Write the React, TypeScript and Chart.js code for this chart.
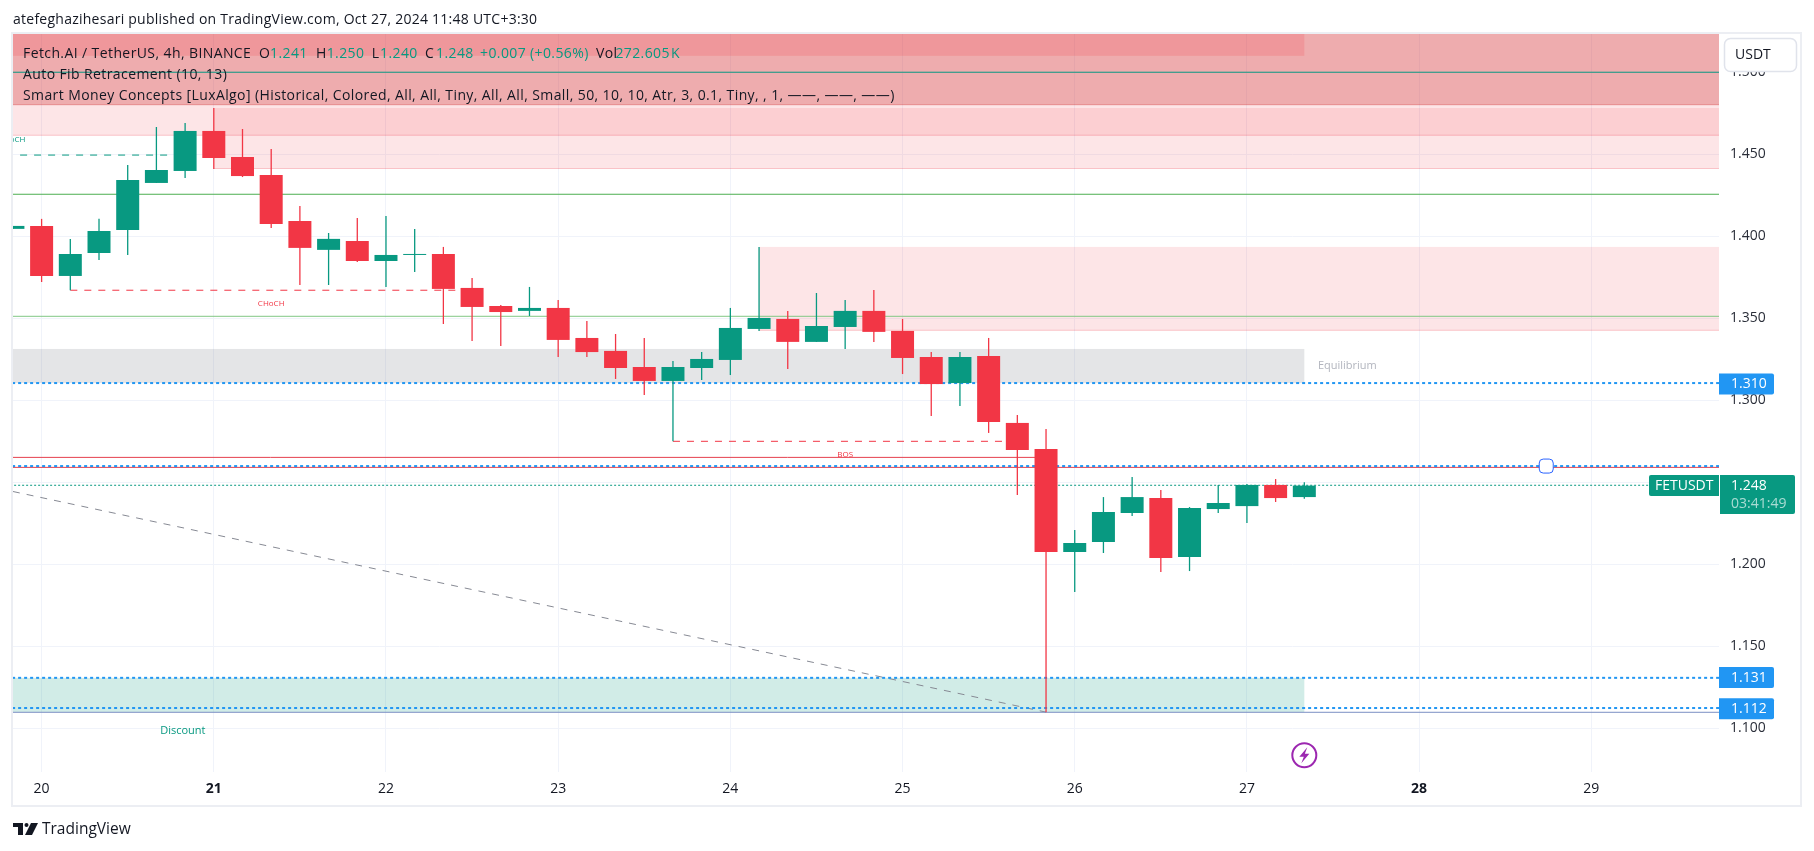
import React, { useEffect, useRef } from "react";
import { Chart, registerables } from "chart.js";

Chart.register(...registerables);

const FONT = '"Open Sans", sans-serif';
const UP = "#089981";
const DOWN = "#f23645";
const BLUE = "#2196f3";
const GRID = "#f0f3fa";

// candle index 0 = day 20 00:00, 6 candles per day
const dayLabels = ["20", "21", "22", "23", "24", "25", "26", "27", "28", "29"];
const boldDays = ["21", "28"];
const candleIndex = [-1, 0, 1, 2, 3, 4, 5, 6, 7, 8, 9, 10, 11, 12, 13, 14, 15, 16, 17, 18, 19, 20, 21, 22, 23, 24, 25, 26, 27, 28, 29, 30, 31, 32, 33, 34, 35, 36, 37, 38, 39, 40, 41, 42, 43, 44];
const opens = [1.4045, 1.4063, 1.3758, 1.3898, 1.4038, 1.4325, 1.4398, 1.4642, 1.4483, 1.4373, 1.4093, 1.3917, 1.3971, 1.3849, 1.3886, 1.3892, 1.3685, 1.3575, 1.3545, 1.3563, 1.338, 1.3301, 1.3203, 1.3118, 1.3197, 1.3246, 1.3435, 1.3496, 1.3356, 1.3447, 1.3545, 1.3423, 1.3264, 1.3105, 1.327, 1.2862, 1.2703, 1.2075, 1.2136, 1.2313, 1.2404, 1.2045, 1.2337, 1.2355, 1.2484, 1.241];
const highs = [1.4063, 1.4106, 1.3984, 1.4106, 1.4435, 1.4666, 1.4691, 1.4782, 1.4654, 1.4532, 1.4185, 1.402, 1.4112, 1.4124, 1.4045, 1.3935, 1.3746, 1.3581, 1.3691, 1.3612, 1.3484, 1.3404, 1.338, 1.324, 1.3294, 1.3563, 1.3935, 1.3545, 1.3654, 1.3612, 1.3673, 1.3496, 1.3294, 1.3294, 1.338, 1.291, 1.2825, 1.2209, 1.241, 1.2532, 1.2453, 1.2349, 1.2484, 1.249, 1.252, 1.25];
const lows = [1.4045, 1.3721, 1.3671, 1.3856, 1.3886, 1.4325, 1.4355, 1.441, 1.4361, 1.4051, 1.3703, 1.3703, 1.3843, 1.3691, 1.3782, 1.3465, 1.3362, 1.3331, 1.3514, 1.3264, 1.3264, 1.313, 1.3032, 1.275, 1.3124, 1.3154, 1.3423, 1.3191, 1.3356, 1.3313, 1.3356, 1.316, 1.2904, 1.2965, 1.2801, 1.2423, 1.1099, 1.1831, 1.2069, 1.2295, 1.1953, 1.1959, 1.2313, 1.2252, 1.238, 1.24];
const closes = [1.4063, 1.3758, 1.3892, 1.4032, 1.4343, 1.4404, 1.4642, 1.4477, 1.4367, 1.4075, 1.3929, 1.3984, 1.3849, 1.3886, 1.3892, 1.3679, 1.3569, 1.3538, 1.3563, 1.3368, 1.3294, 1.3197, 1.3118, 1.3203, 1.3252, 1.3441, 1.3502, 1.3356, 1.3453, 1.3545, 1.3417, 1.3258, 1.3099, 1.3264, 1.2868, 1.2697, 1.2075, 1.213, 1.2319, 1.241, 1.2038, 1.2343, 1.2374, 1.2484, 1.2404, 1.248];

const axisIndexMin = -0.997;
const axisIndexMax = 58.45;
const priceMin = 1.0734;
const priceMax = 1.5233;

const FAR = 70;
// from index, to index, top price, bottom price, fill, border
const zoneList: [number, number, number, number, string, string | null][] = [
  [-5, FAR, 1.56, 1.4799, "rgba(213,48,53,0.40)", "rgba(213,48,53,0.25)"],
  [-5, 44, 1.56, 1.51, "rgba(242,54,69,0.18)", null],
  [-5, FAR, 1.4798, 1.4613, "rgba(242,54,69,0.13)", "rgba(242,54,69,0.2)"],
  [6, FAR, 1.4782, 1.441, "rgba(242,54,69,0.13)", "rgba(242,54,69,0.2)"],
  [25, FAR, 1.3935, 1.3424, "rgba(242,54,69,0.13)", "rgba(242,54,69,0.2)"],
  [-5, 44, 1.3313, 1.3105, "rgba(120,123,134,0.2)", null],
  [-5, 44, 1.1308, 1.1099, "rgba(8,153,129,0.19)", null],
];

// from index, from price, to index, to price, colour, width, dash
const lineList: [number, number, number, number, string, number, number[]][] = [
  [-5, 1.5, FAR, 1.5, UP, 1, []],
  [-5, 1.4256, FAR, 1.4256, "#4caf50", 1, []],
  [-5, 1.3512, FAR, 1.3512, "#81c784", 1, []],
  [-5, 1.3105, FAR, 1.3105, BLUE, 2, [3, 3]],
  [-5, 1.2652, 35, 1.2652, "#e5404e", 1, []],
  [-5, 1.2599, FAR, 1.2599, BLUE, 2, [3, 3]],
  [-5, 1.2591, FAR, 1.2591, "#e5404e", 1, []],
  [-5, 1.2482, FAR, 1.2482, UP, 1, [2, 2]],
  [-5, 1.1308, FAR, 1.1308, BLUE, 2, [3, 3]],
  [-5, 1.1124, FAR, 1.1124, BLUE, 2, [3, 3]],
  [-5, 1.1098, FAR, 1.1098, "#7b8fc4", 1, []],
  [-0.75, 1.4495, 5, 1.4495, UP, 1, [7, 7]],
  [1, 1.3671, 15, 1.3671, DOWN, 1, [7, 7]],
  [22, 1.275, 34, 1.275, DOWN, 1, [7, 7]],
  [-1, 1.2444, 35, 1.1099, "#868993", 1, [7, 7]],
];

// text, index, price, size, colour
const noteList: [string, number, number, number, string][] = [
  ["CHoCH", -1.03, 1.4587, 8, UP],
  ["CHoCH", 8, 1.3587, 8, DOWN],
  ["BOS", 28, 1.2668, 8, DOWN],
  ["Equilibrium", 45.5, 1.321, 11, "#b2b5be"],
  ["Discount", 4.92, 1.0984, 11, UP],
];

const priceTags = [1.31, 1.131, 1.112];
const lastPrice = 1.248;
const handleAt: [number, number] = [52.43, 1.2599];
const iconAt = 44;

const headerText = "atefeghazihesari published on TradingView.com, Oct 27, 2024 11:48 UTC+3:30";
const legendLine2 = "Auto Fib Retracement (10, 13)";
const legendLine3 = "Smart Money Concepts [LuxAlgo] (Historical, Colored, All, All, Tiny, All, All, Small, 50, 10, 10, Atr, 3, 0.1, Tiny, , 1, ——, ——, ——)";
const legendParts: [string, number, string][] = [
  ["Fetch.AI / TetherUS, 4h, BINANCE", 23, "#131722"],
  ["O", 259, "#131722"], ["1.241", 270, UP],
  ["H", 316, "#131722"], ["1.250", 326.7, UP],
  ["L", 371.7, "#131722"], ["1.240", 380, UP],
  ["C", 425, "#131722"], ["1.248", 436, UP],
  ["+0.007", 480, UP], ["(+0.56%)", 530, UP],
  ["Vol", 596, "#131722"], ["272.605", 615.4, UP], ["K", 671, UP],
];

const zonesAndOverlays = {
  id: "zonesAndOverlays",
  beforeDatasetsDraw(chart: any) {
    const { ctx, chartArea: a, scales } = chart;
    ctx.save();
    ctx.beginPath();
    ctx.rect(a.left, a.top, a.right - a.left, a.bottom - a.top);
    ctx.clip();
    for (const [i0, i1, p0, p1, fill, border] of zoneList) {
      const x0 = scales.x.getPixelForValue(i0);
      const x1 = scales.x.getPixelForValue(i1);
      const y0 = scales.y.getPixelForValue(p0);
      const y1 = scales.y.getPixelForValue(p1);
      ctx.fillStyle = fill;
      ctx.fillRect(x0, y0, x1 - x0, y1 - y0);
      if (border) {
        ctx.fillStyle = border;
        ctx.fillRect(x0, y1 - 1, x1 - x0, 1);
      }
    }
    ctx.restore();
  },
  afterDatasetsDraw(chart: any) {
    const { ctx, chartArea: a, scales } = chart;
    ctx.save();
    ctx.beginPath();
    ctx.rect(a.left, a.top, a.right - a.left, a.bottom - a.top);
    ctx.clip();
    ctx.textAlign = "center";
    ctx.textBaseline = "middle";
    for (const [t, i, p, size, color] of noteList) {
      ctx.font = `${size}px ${FONT}`;
      ctx.fillStyle = color;
      ctx.fillText(t, scales.x.getPixelForValue(i), scales.y.getPixelForValue(p));
    }
    // alert handle on the line
    const hx = scales.x.getPixelForValue(handleAt[0]);
    const hy = scales.y.getPixelForValue(handleAt[1]);
    ctx.beginPath();
    ctx.roundRect(hx - 7, hy - 7, 14, 14, 4);
    ctx.fillStyle = "#fff";
    ctx.fill();
    ctx.strokeStyle = "#2962ff";
    ctx.lineWidth = 1;
    ctx.stroke();
    // purple lightning badge
    const ix = scales.x.getPixelForValue(iconAt);
    const iy = 755.3;
    ctx.beginPath();
    ctx.arc(ix, iy, 12, 0, Math.PI * 2);
    ctx.strokeStyle = "#9c27b0";
    ctx.lineWidth = 2;
    ctx.stroke();
    ctx.beginPath();
    ctx.moveTo(ix + 3, iy - 8);
    ctx.lineTo(ix - 5, iy + 1.5);
    ctx.lineTo(ix - 0.5, iy + 1.5);
    ctx.lineTo(ix - 3, iy + 8);
    ctx.lineTo(ix + 5, iy - 1.5);
    ctx.lineTo(ix + 0.5, iy - 1.5);
    ctx.closePath();
    ctx.fillStyle = "#9c27b0";
    ctx.fill();
    ctx.restore();
  },
  afterDraw(chart: any) {
    const { ctx, chartArea: a, scales } = chart;
    ctx.save();
    ctx.textBaseline = "middle";
    ctx.textAlign = "left";

    // header
    ctx.font = `14px ${FONT}`;
    ctx.letterSpacing = "0.25px";
    ctx.fillStyle = "#131722";
    ctx.fillText(headerText, 13, 20);

    // legend
    ctx.letterSpacing = "0.4px";
    for (const [t, x, c] of legendParts) {
      ctx.fillStyle = c;
      ctx.fillText(t, x, 54);
    }
    ctx.fillStyle = "#131722";
    ctx.fillText(legendLine2, 23, 75);
    ctx.fillText(legendLine3, 23, 96);
    ctx.letterSpacing = "0px";

    // frame
    ctx.strokeStyle = "#eceef3";
    ctx.lineWidth = 2;
    ctx.strokeRect(12, 33, 1789, 773);

    // USDT button
    ctx.beginPath();
    ctx.roundRect(1724.5, 38.5, 72, 33, 6);
    ctx.fillStyle = "#fff";
    ctx.fill();
    ctx.strokeStyle = "#e0e3eb";
    ctx.lineWidth = 1.5;
    ctx.stroke();
    ctx.fillStyle = "#131722";
    ctx.fillText("USDT", 1735, 55);

    // blue price tags
    for (const p of priceTags) {
      const y = scales.y.getPixelForValue(p);
      ctx.fillStyle = BLUE;
      ctx.beginPath();
      ctx.roundRect(a.right, y - 10.5, 55, 21, [0, 2, 2, 0]);
      ctx.fill();
      ctx.fillStyle = "#fff";
      ctx.fillText(p.toFixed(3), 1731, y + 0.5);
    }

    // last price tags
    const ly = scales.y.getPixelForValue(lastPrice);
    ctx.fillStyle = UP;
    ctx.beginPath();
    ctx.roundRect(1649, ly - 10.5, 70, 21, [2, 0, 0, 2]);
    ctx.fill();
    ctx.beginPath();
    ctx.roundRect(a.right + 1, ly - 10.5, 75, 39, [0, 2, 2, 0]);
    ctx.fill();
    ctx.fillStyle = "#fff";
    ctx.fillText("FETUSDT", 1655, ly + 0.5);
    ctx.fillText(lastPrice.toFixed(3), 1731, ly + 0.5);
    ctx.fillStyle = "rgba(255,255,255,0.65)";
    ctx.fillText("03:41:49", 1731, ly + 18);

    // footer logo
    ctx.fillStyle = "#131722";
    ctx.fillRect(13, 823, 10, 4);
    ctx.fillRect(18, 823, 5, 12);
    ctx.beginPath();
    ctx.arc(26.5, 825, 2, 0, Math.PI * 2);
    ctx.fill();
    ctx.beginPath();
    ctx.moveTo(31, 823);
    ctx.lineTo(38, 823);
    ctx.lineTo(32, 835);
    ctx.lineTo(25, 835);
    ctx.closePath();
    ctx.fill();
    ctx.font = `15.5px ${FONT}`;
    ctx.fillText("TradingView", 42, 830);
    ctx.restore();
  },
};

export default function App() {
  const ref = useRef<HTMLCanvasElement | null>(null);
  useEffect(() => {
    const canvas = ref.current!;
    const rows = candleIndex.map((x, i) => ({ x, o: opens[i], h: highs[i], l: lows[i], c: closes[i] }));
    const colorOf = (ctx: any) => {
      const r = rows[ctx.dataIndex];
      return r && r.c >= r.o ? UP : DOWN;
    };
    const lineSets = lineList.map(([x0, y0, x1, y1, color, width, dash]) => ({
      type: "line" as const,
      data: [{ x: x0, y: y0 }, { x: x1, y: y1 }],
      borderColor: color,
      borderWidth: width,
      borderDash: dash,
      pointRadius: 0,
      fill: false,
      tension: 0,
      order: 5,
    }));
    const chart = new Chart(canvas, {
      type: "bar",
      plugins: [zonesAndOverlays],
      data: {
        datasets: [
          ...lineSets,
          {
            type: "bar",
            data: rows.map((r) => ({ x: r.x, y: [r.l, r.h] })),
            backgroundColor: colorOf,
            barThickness: 1.3,
            inflateAmount: 0,
            grouped: false,
            order: 2,
          },
          {
            type: "bar",
            data: rows.map((r) => ({ x: r.x, y: [r.o, r.c] })),
            backgroundColor: colorOf,
            barThickness: 23,
            inflateAmount: 0,
            grouped: false,
            minBarLength: 1,
            order: 1,
          },
        ] as any,
      },
      options: {
        animation: false,
        responsive: false,
        devicePixelRatio: 1,
        events: [],
        layout: { autoPadding: false, padding: { left: 13, right: 13, top: 34, bottom: 45 } },
        plugins: { legend: { display: false }, tooltip: { enabled: false } },
        scales: {
          x: {
            type: "linear",
            offset: false,
            min: axisIndexMin,
            max: axisIndexMax,
            afterFit: (s: any) => { s.height = 34; },
            grid: { color: GRID, drawTicks: false, offset: false },
            border: { display: false },
            ticks: {
              stepSize: 6,
              includeBounds: false,
              autoSkip: false,
              maxRotation: 0,
              padding: 9,
              color: "#131722",
              callback: (v: any) => dayLabels[Math.round(Number(v) / 6)] ?? "",
              font: (ctx: any) => {
                const lab = ctx.tick ? dayLabels[Math.round(ctx.tick.value / 6)] : "";
                return { family: FONT, size: 14, weight: boldDays.includes(lab) ? "bold" : "normal" };
              },
            },
          },
          y: {
            type: "linear",
            position: "right",
            min: priceMin,
            max: priceMax,
            afterFit: (s: any) => { s.width = 82; },
            grid: { color: GRID, drawTicks: false },
            border: { display: false },
            ticks: {
              stepSize: 0.05,
              includeBounds: false,
              crossAlign: "near",
              padding: 11,
              color: "#2a2e39",
              font: { family: FONT, size: 14 },
              callback: (v: any) => Number(v).toFixed(3),
            },
          },
        },
      } as any,
    });
    return () => chart.destroy();
  }, []);
  return (
    <div style={{ position: "fixed", left: 0, top: 0, width: 1814, height: 851, background: "#fff" }}>
      <canvas ref={ref} width={1814} height={851} style={{ display: "block" }} />
    </div>
  );
}
